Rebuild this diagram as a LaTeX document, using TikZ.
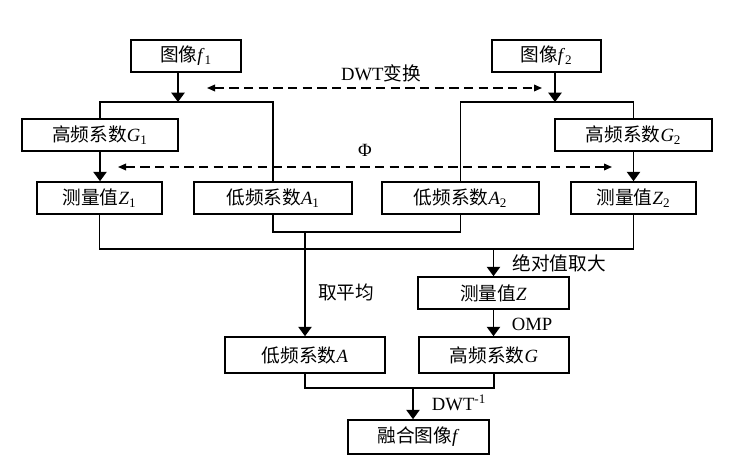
\documentclass[tikz,border=0pt]{standalone}
\usepackage{fontspec}
\setmainfont{Liberation Serif}
\newfontfamily\cjk{Noto Sans CJK SC}
\usetikzlibrary{arrows.meta}

\newcommand{\zh}[1]{{\cjk #1}}
\newcommand{\vsub}[2]{\textit{#1}\textsubscript{#2}}

\begin{document}
\begin{tikzpicture}[x=0.75pt,y=-0.75pt,
  box/.style={draw,line width=1.2pt,minimum height=24pt,inner sep=0pt,font=\fontsize{14}{16}\selectfont},
  flow/.style={line width=1pt},
  arr/.style={flow,-{Triangle[length=7pt,width=10pt]}},
  dwt/.style={flow,dash pattern=on 7pt off 4pt,{Triangle[length=6pt,width=5pt]}-{Triangle[length=6pt,width=5pt]}},
  lab/.style={font=\fontsize{14}{16}\selectfont}]
\useasboundingbox (0,0) rectangle (755,474);

\node[box,minimum width=82.5pt] (f1) at (186,56) {\zh{图像}\vsub{f}{1}};
\node[box,minimum width=82pt] (f2) at (546.5,56) {\zh{图像}\vsub{f}{2}};
\node[box,minimum width=117pt] (G1) at (100,135) {\zh{高频系数}\vsub{G}{1}};
\node[box,minimum width=118pt] (G2) at (633.5,135) {\zh{高频系数}\vsub{G}{2}};
\node[box,minimum width=94pt] (Z1) at (99.5,198) {\zh{测量值}\vsub{Z}{1}};
\node[box,minimum width=118.5pt] (A1) at (273,198) {\zh{低频系数}\vsub{A}{1}};
\node[box,minimum width=118pt] (A2) at (460.5,198) {\zh{低频系数}\vsub{A}{2}};
\node[box,minimum width=94pt] (Z2) at (633.5,198) {\zh{测量值}\vsub{Z}{2}};
\node[box,minimum width=113pt] (Z) at (493.5,293) {\zh{测量值}\textit{Z}};
\node[box,minimum width=120pt,minimum height=27pt] (A) at (305,355) {\zh{低频系数}\textit{A}};
\node[box,minimum width=112.5pt,minimum height=27pt] (G) at (494,355) {\zh{高频系数}\textit{G}};
\node[box,minimum width=106pt,minimum height=25.5pt] (F) at (418.5,437) {\zh{融合图像}\textit{f}};

\coordinate (t1) at (178,102);
\coordinate (t2) at (555,102);
\coordinate (t3) at (493.5,249);
\coordinate (t4) at (305,232);
\coordinate (t5) at (413,388);

\draw[arr] (t1 |- f1.south) -- (t1);
\draw[flow] (G1.north) |- (t1) -| (A1.north);
\draw[arr] (t2 |- f2.south) -- (t2);
\draw[flow] (A2.north) |- (t2) -| (G2.north);
\draw[arr] (G1.south) -- (G1.south |- Z1.north);
\draw[arr] (G2.south) -- (G2.south |- Z2.north);

\coordinate (d1) at (207,88);
\coordinate (d2) at (542,88);
\draw[dwt] (d1) -- (d2);
\node[lab] (ldwt) at (381,73) {DWT\zh{变换}};
\coordinate (p1) at (118,167);
\coordinate (p2) at (612,167);
\draw[dwt] (p1) -- (p2);
\node[lab] (lphi) at (365,150) {Φ};

\draw[flow] (Z1.south) |- (t3) -| (Z2.south);
\draw[arr] (t3) -- (Z.north);
\node[lab] (labs) at (559,263) {\zh{绝对值取大}};
\draw[flow] (A1.south) |- (t4) -| (A2.south);
\draw[arr] (t4) -- (A.north);
\node[lab] (lavg) at (346,292) {\zh{取平均}};
\draw[arr] (Z.south) -- (Z.south |- G.north);
\node[lab] (lomp) at (532,324) {OMP};
\draw[flow] (A.south) |- (t5) -| (G.south);
\draw[arr] (t5) -- (t5 |- F.north);
\node[lab] (linv) at (459,403) {DWT\textsuperscript{-1}};
\end{tikzpicture}
\end{document}
